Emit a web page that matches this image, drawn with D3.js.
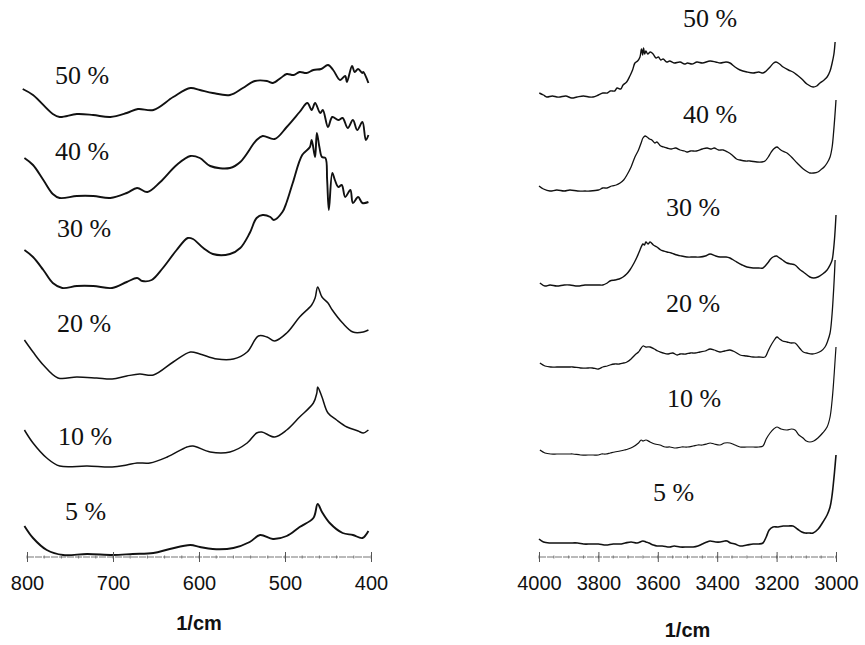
<!DOCTYPE html>
<html>
<head>
<meta charset="utf-8">
<script src="https://cdn.jsdelivr.net/npm/d3@7"></script>
<style>
  html, body { margin: 0; padding: 0; background: #fff; }
  svg { display: block; }
</style>
</head>
<body>
<svg id="chart" width="865" height="645"></svg>
<script>
// ---------- DATA (wavenumber 1/cm, relative absorbance in a.u.) ----------
const seriesLabels = ["50 %", "40 %", "30 %", "20 %", "10 %", "5 %"];

const leftTicks = [800, 700, 600, 500, 400];
const rightTicks = [4000, 3800, 3600, 3400, 3200, 3000];
const axisTitle = "1/cm";

// Left panel (800 - 400 1/cm)
const left50 = [[805,468],[793,462],[770,443],[762,440],[742,443],[723,442],[703,440],[684,444],[671,448],[653,447],[630,460],[610,469],[599,467],[584,464],[564,462],[549,469],[535,476],[521,476],[514,474],[505,479],[498,483],[490,482],[483,485],[475,484],[467,487],[458,488],[450,492],[444,487],[436,477],[430,481],[428,475],[422,491],[419,485],[415,488],[410,484],[409,485],[403,474]];
const left40 = [[803,399],[793,392],[781,377],[770,363],[762,359],[742,361],[723,361],[703,359],[684,364],[672,369],[660,365],[645,375],[626,392],[610,401],[599,399],[587,391],[564,389],[552,395],[533,417],[526,421],[512,418],[498,430],[483,445],[474,454],[469,447],[465,454],[459,444],[456,447],[450,430],[445,440],[438,437],[433,439],[427,429],[421,437],[416,427],[410,435],[406,417],[403,422]];
const left30 = [[803,307],[793,300],[781,287],[770,274],[759,269],[742,271],[723,271],[701,269],[684,275],[672,279],[666,276],[655,277],[642,289],[626,307],[613,319],[607,318],[595,309],[584,303],[564,303],[552,309],[541,324],[533,339],[526,342],[517,340],[513,337],[503,345],[498,355],[491,374],[480,402],[471,410],[469,417],[465,400],[463,424],[460,410],[457,400],[453,399],[451,377],[449,347],[445,384],[442,377],[438,370],[434,372],[430,360],[424,367],[421,354],[415,360],[410,354],[403,355]];
const left20 = [[803,217],[793,205],[781,192],[764,179],[742,180],[719,179],[701,178],[684,181],[669,183],[653,182],[630,195],[610,205],[599,203],[579,198],[560,198],[544,205],[531,221],[521,220],[512,216],[498,224],[483,240],[469,252],[465,259],[462,270],[457,260],[450,254],[445,247],[433,234],[421,225],[409,225],[403,227]];
const left10 = [[803,127],[793,114],[777,99],[762,91],[730,91],[701,90],[684,92],[672,94],[657,94],[637,100],[614,110],[607,111],[587,105],[564,105],[544,114],[533,124],[527,125],[512,120],[498,127],[483,140],[467,154],[463,164],[462,170],[457,160],[450,144],[440,137],[428,130],[415,126],[409,124],[403,127]];
const left05 = [[803,31],[793,19],[777,7],[758,2],[730,3],[700,2],[677,3],[653,4],[634,8],[610,12],[599,10],[584,8],[560,9],[541,15],[529,22],[514,18],[498,21],[483,30],[467,39],[462,53],[457,45],[448,34],[433,24],[421,22],[410,19],[403,26]];

// Right panel (4000 - 3000 1/cm)
const right50 = [[3999,464],[3985,462],[3974,460],[3955,461],[3940,460],[3929,460],[3910,461],[3890,459],[3872,460],[3850,461],[3832,460],[3818,460],[3800,462],[3785,464],[3770,464],[3760,466],[3745,466],[3737,469],[3725,468],[3717,472],[3705,475],[3694,481],[3685,487],[3677,494],[3668,496],[3660,500],[3655,508],[3651,502],[3648,509],[3644,503],[3640,506],[3634,503],[3625,505],[3616,503],[3606,499],[3598,500],[3590,497],[3582,498],[3570,495],[3560,496],[3545,494],[3525,495],[3510,493],[3500,494],[3485,493],[3468,495],[3450,494],[3424,496],[3405,495],[3390,494],[3370,495],[3357,494],[3340,490],[3323,487],[3300,485],[3279,484],[3260,485],[3246,484],[3235,486],[3222,490],[3210,494],[3202,495],[3190,493],[3178,490],[3160,487],[3145,485],[3131,482],[3115,478],[3098,473],[3077,470],[3065,471],[3054,474],[3040,477],[3030,480],[3020,486],[3013,494],[3007,503],[3003,515]];
const right40 = [[4000,371],[3985,368],[3963,366],[3940,367],[3915,366],[3896,367],[3870,366],[3845,366],[3828,366],[3800,367],[3785,369],[3771,369],[3755,371],[3740,372],[3727,374],[3715,377],[3704,382],[3690,390],[3677,400],[3665,407],[3655,415],[3650,419],[3643,421],[3636,420],[3628,418],[3620,417],[3610,414],[3603,415],[3590,411],[3580,410],[3569,409],[3555,408],[3540,409],[3525,407],[3510,406],[3502,405],[3490,406],[3470,406],[3450,408],[3434,409],[3420,408],[3410,409],[3395,407],[3380,407],[3365,405],[3350,402],[3335,398],[3323,397],[3305,396],[3290,396],[3266,395],[3250,395],[3239,396],[3228,400],[3220,404],[3210,408],[3199,410],[3190,408],[3180,406],[3165,404],[3150,400],[3131,394],[3110,388],[3095,385],[3088,384],[3075,384],[3061,385],[3048,388],[3040,390],[3030,394],[3020,400],[3013,410],[3008,425],[3004,440],[3000,457]];
const right30 = [[3997,274],[3980,271],[3963,272],[3940,271],[3915,272],[3896,272],[3870,271],[3845,272],[3820,272],[3800,272],[3785,272],[3770,274],[3761,276],[3745,277],[3730,278],[3717,280],[3705,283],[3694,287],[3680,294],[3670,300],[3660,307],[3650,313],[3645,312],[3640,315],[3633,313],[3626,315],[3615,312],[3603,310],[3590,307],[3580,306],[3569,305],[3555,304],[3535,302],[3520,301],[3502,300],[3480,300],[3458,300],[3440,301],[3424,303],[3405,301],[3390,300],[3370,300],[3357,299],[3340,296],[3316,292],[3300,290],[3279,289],[3260,289],[3246,289],[3230,294],[3220,298],[3212,300],[3200,301],[3195,300],[3180,297],[3165,294],[3150,293],[3138,292],[3120,287],[3110,285],[3088,280],[3075,279],[3061,280],[3045,283],[3030,287],[3020,292],[3013,297],[3008,308],[3004,322],[3000,342]];
const right20 = [[3997,194],[3980,191],[3960,190],[3940,190],[3920,190],[3900,190],[3886,190],[3860,189],[3835,189],[3820,189],[3800,188],[3785,190],[3770,191],[3761,192],[3745,193],[3730,193],[3715,194],[3704,195],[3690,198],[3677,202],[3665,205],[3660,207],[3650,211],[3640,210],[3626,210],[3612,208],[3600,206],[3582,204],[3565,203],[3550,204],[3535,202],[3525,203],[3505,203],[3490,204],[3475,204],[3458,205],[3440,206],[3424,208],[3410,207],[3391,205],[3375,206],[3357,207],[3340,205],[3323,202],[3300,201],[3279,200],[3260,200],[3239,200],[3230,205],[3222,210],[3210,216],[3199,220],[3190,218],[3180,216],[3165,215],[3150,214],[3138,214],[3120,208],[3110,205],[3098,204],[3080,203],[3064,204],[3050,206],[3037,210],[3028,216],[3020,224],[3014,240],[3010,257],[3006,278],[3003,297]];
const right10 = [[3997,107],[3980,104],[3960,103],[3940,103],[3920,103],[3900,103],[3886,103],[3860,102],[3835,102],[3818,102],[3800,102],[3790,103],[3775,103],[3760,104],[3745,105],[3727,106],[3712,107],[3700,108],[3684,110],[3665,114],[3656,117],[3650,116],[3640,117],[3626,115],[3610,113],[3593,112],[3575,110],[3559,110],[3540,109],[3520,110],[3500,110],[3481,111],[3465,112],[3450,112],[3435,113],[3424,114],[3410,113],[3391,112],[3375,114],[3357,114],[3340,112],[3323,110],[3300,110],[3279,110],[3260,110],[3246,111],[3235,118],[3222,124],[3210,128],[3199,130],[3185,128],[3165,127],[3150,128],[3138,127],[3125,122],[3111,119],[3100,116],[3088,115],[3075,116],[3061,119],[3045,124],[3030,130],[3020,140],[3013,157],[3008,175],[3003,197],[3000,210]];
const right05 = [[4000,18],[3985,15],[3963,14],[3940,14],[3915,14],[3896,14],[3870,14],[3850,13],[3825,13],[3800,13],[3775,12],[3750,13],[3727,13],[3710,14],[3690,15],[3670,14],[3650,16],[3640,15],[3630,14],[3615,12],[3603,11],[3585,11],[3560,10],[3545,11],[3525,10],[3500,10],[3481,10],[3465,11],[3450,13],[3435,15],[3424,16],[3405,15],[3390,15],[3375,16],[3367,16],[3355,14],[3340,13],[3323,11],[3300,12],[3279,13],[3260,13],[3246,14],[3235,20],[3225,27],[3212,30],[3195,30],[3178,31],[3160,31],[3145,31],[3130,28],[3115,25],[3104,24],[3090,24],[3077,24],[3060,28],[3044,35],[3030,42],[3020,50],[3014,60],[3010,70],[3005,85],[3000,102]];

// ---------- LAYOUT ----------
const svg = d3.select("#chart");
const axisY = 557;

const xLeft = d3.scaleLinear().domain([800, 400]).range([27, 371]);
const xRight = d3.scaleLinear().domain([4000, 3000]).range([539, 836]);
const y = d3.scaleLinear().domain([0, 540]).range([axisY, axisY - 540]);

const leftSeries = [left50, left40, left30, left20, left10, left05];
const rightSeries = [right50, right40, right30, right20, right10, right05];

const leftLabelPos = [[55, 84], [55, 160], [57, 237], [57, 332], [58, 445], [65, 520]];
const rightLabelPos = [[683, 27], [683, 123], [666, 216], [666, 312], [667, 407], [653, 501]];
const leftWidths = [1.9, 1.9, 1.9, 1.5, 1.5, 1.9];
const rightWidths = [1.4, 1.3, 1.4, 1.3, 1.2, 1.6];

function drawPanel(xs, series, labelPos, widths, ticks, minorStep, titleY) {
  const g = svg.append("g");
  const line = d3.line().x(d => xs(d[0])).y(d => y(d[1])).curve(d3.curveCatmullRom.alpha(0.5));

  g.selectAll("path.spec")
    .data(series)
    .join("path")
    .attr("class", "spec")
    .attr("d", line)
    .attr("fill", "none")
    .attr("stroke", "#111")
    .attr("stroke-width", (d, i) => widths[i])
    .attr("stroke-linejoin", "round");

  g.selectAll("text.lab")
    .data(seriesLabels)
    .join("text")
    .attr("class", "lab")
    .attr("x", (d, i) => labelPos[i][0])
    .attr("y", (d, i) => labelPos[i][1])
    .attr("font-family", "'Liberation Serif', 'Times New Roman', serif")
    .attr("font-size", 26)
    .attr("fill", "#111")
    .text(d => d);

  const [d0, d1] = xs.domain();
  const minor = d3.range(Math.min(d0, d1), Math.max(d0, d1) + 0.001, minorStep);
  const axisG = g.append("g").attr("transform", `translate(0,${axisY})`);
  axisG.append("line")
    .attr("x1", xs(d0)).attr("x2", xs(d1))
    .attr("stroke", "#777").attr("stroke-width", 1.2)
    .attr("stroke-dasharray", "7,1");
  axisG.selectAll("line.minor")
    .data(minor)
    .join("line")
    .attr("class", "minor")
    .attr("x1", d => xs(d)).attr("x2", d => xs(d))
    .attr("y1", -1.5).attr("y2", 1.5)
    .attr("stroke", "#777").attr("stroke-width", 1);

  const axis = d3.axisBottom(xs).tickValues(ticks).tickSize(5).tickPadding(14).tickFormat(d3.format("d"));
  const ag = axisG.append("g").call(axis);
  ag.select(".domain").remove();
  ag.selectAll(".tick line").attr("y1", -5).attr("y2", 5).attr("stroke", "#555");
  ag.selectAll(".tick text")
    .attr("font-family", "'Liberation Sans', Arial, sans-serif")
    .attr("font-size", 20)
    .attr("fill", "#111");

  g.append("text")
    .attr("x", (xs.range()[0] + xs.range()[1]) / 2)
    .attr("y", titleY)
    .attr("text-anchor", "middle")
    .attr("font-family", "'Liberation Sans', Arial, sans-serif")
    .attr("font-weight", "bold")
    .attr("font-size", 20)
    .attr("fill", "#111")
    .text(axisTitle);
}

drawPanel(xLeft, leftSeries, leftLabelPos, leftWidths, leftTicks, 20, 630);
drawPanel(xRight, rightSeries, rightLabelPos, rightWidths, rightTicks, 50, 637);
</script>
</body>
</html>
